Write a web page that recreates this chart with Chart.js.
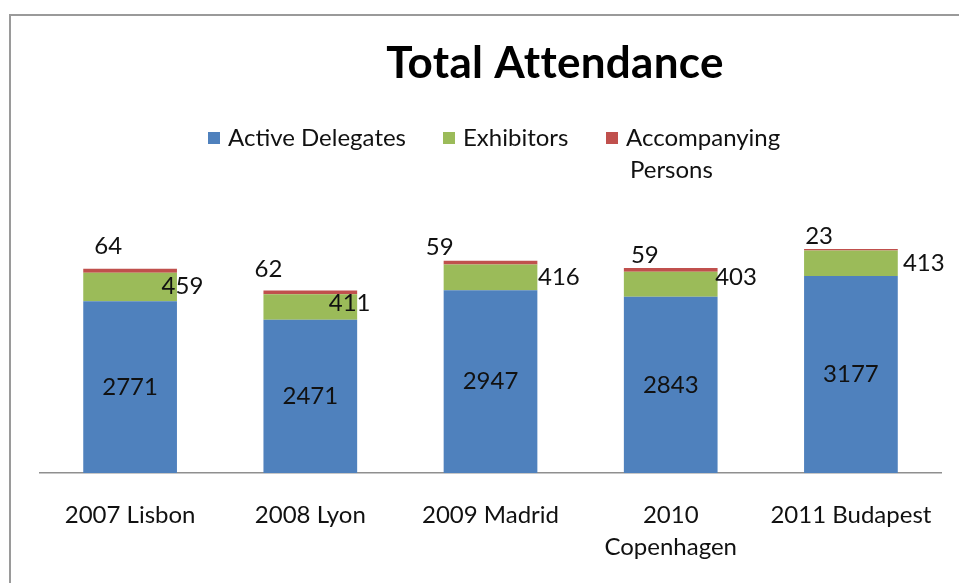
<!DOCTYPE html>
<html>
<head>
<meta charset="utf-8">
<script src="https://cdn.jsdelivr.net/npm/chart.js@4.4.0/dist/chart.umd.min.js"></script>
<style>
html,body{margin:0;padding:0;background:#fff;overflow:hidden}
#wrap{width:959px;height:583px;position:relative}
</style>
</head>
<body>
<div id="wrap"><canvas id="c" width="959" height="583"></canvas></div>
<script>
// ---- data ----
const chartTitle = 'Total Attendance';
const categories = ['2007 Lisbon', '2008 Lyon', '2009 Madrid', ['2010', 'Copenhagen'], '2011 Budapest'];
const activeDelegates = [2771, 2471, 2947, 2843, 3177];
const exhibitors = [459, 411, 416, 403, 413];
const accompanyingPersons = [64, 62, 59, 59, 23];
const seriesNames = ['Active Delegates', 'Exhibitors', ['Accompanying', 'Persons']];

// ---- style ----
const FONT = 'Lato, "Open Sans", sans-serif';
const COLORS = ['#4F81BD', '#9BBB59', '#C0504D'];
const TEXT = '#111111';

// label nudges (px) relative to each segment's anchor
const labelNudges = [
  null,
  [[5.5, -1], [-7.5, -4], [21.5, 0], [18.5, -7], [26, 0]],
  [[25, -22.5], [5, -21.5], [-4, -13.7], [21, -13], [15, -12.6]]
];

const segLabels = {
  id: 'segLabels',
  afterDatasetsDraw(chart) {
    const ctx = chart.ctx;
    ctx.save();
    ctx.font = '24px ' + FONT;
    ctx.fillStyle = TEXT;
    ctx.textBaseline = 'middle';
    ctx.textAlign = 'center';
    chart.data.datasets.forEach((ds, di) => {
      const meta = chart.getDatasetMeta(di);
      meta.data.forEach((bar, i) => {
        const p = bar.getProps(['x', 'y', 'base', 'width'], true);
        let px, py;
        if (di === 0) {
          px = p.x; py = (p.y + p.base) / 2;
        } else if (di === 1) {
          const n = labelNudges[1][i];
          px = p.x + p.width / 2 + n[0]; py = (p.y + p.base) / 2 + n[1];
        } else {
          const n = labelNudges[2][i];
          px = p.x - p.width / 2 + n[0]; py = p.y + n[1];
        }
        ctx.fillText(String(ds.data[i]), px, py);
      });
    });
    ctx.restore();
  }
};

const header = {
  id: 'header',
  beforeDraw(chart) {
    const ctx = chart.ctx;
    ctx.save();
    ctx.strokeStyle = '#9a9a9a';
    ctx.lineWidth = 2;
    ctx.beginPath();
    ctx.moveTo(10, 583);
    ctx.lineTo(10, 15);
    ctx.lineTo(959, 15);
    ctx.stroke();
    ctx.restore();
  },
  afterDraw(chart) {
    const ctx = chart.ctx;
    ctx.save();
    // title
    ctx.font = 'bold 44px ' + FONT;
    if ('letterSpacing' in ctx) ctx.letterSpacing = '0.3px';
    ctx.fillStyle = '#000';
    ctx.textAlign = 'center';
    ctx.textBaseline = 'alphabetic';
    ctx.fillText(chartTitle, 555, 78);
    if ('letterSpacing' in ctx) ctx.letterSpacing = '0px';
    // legend
    const itemX = [208, 443, 606];
    ctx.font = '24px ' + FONT;
    ctx.textAlign = 'left';
    ctx.textBaseline = 'middle';
    seriesNames.forEach((name, k) => {
      ctx.fillStyle = COLORS[k];
      ctx.fillRect(itemX[k], 132, 12, 12);
      ctx.fillStyle = TEXT;
      const lines = Array.isArray(name) ? name : [name];
      lines.forEach((ln, j) => {
        ctx.fillText(ln, itemX[k] + 20 + (j ? 4 : 0), 138 + j * 32);
      });
    });
    ctx.restore();
  }
};

new Chart(document.getElementById('c'), {
  type: 'bar',
  data: {
    labels: categories,
    datasets: [
      { label: 'Active Delegates', data: activeDelegates, backgroundColor: COLORS[0] },
      { label: 'Exhibitors', data: exhibitors, backgroundColor: COLORS[1] },
      { label: 'Accompanying Persons', data: accompanyingPersons, backgroundColor: COLORS[2] }
    ]
  },
  options: {
    responsive: false,
    devicePixelRatio: 1,
    animation: false,
    categoryPercentage: 0.52,
    barPercentage: 1,
    layout: { padding: { left: 40, right: 16, top: 225, bottom: 0 } },
    plugins: {
      legend: { display: false },
      title: { display: false },
      tooltip: { enabled: false }
    },
    scales: {
      x: {
        stacked: true,
        grid: { display: false, drawTicks: false },
        border: { display: true, color: '#8f8f8f', width: 1.5 },
        ticks: {
          color: TEXT,
          font: { family: FONT, size: 24, lineHeight: 1.35 },
          padding: 26,
          maxRotation: 0,
          autoSkip: false
        },
        afterFit(scale) { scale.height = 110; }
      },
      y: {
        stacked: true,
        display: false,
        min: 0,
        max: 4000
      }
    }
  },
  plugins: [header, segLabels]
});
</script>
</body>
</html>
